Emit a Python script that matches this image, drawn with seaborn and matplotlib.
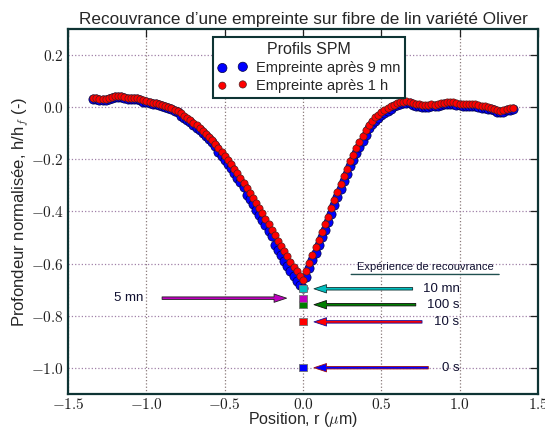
import matplotlib
matplotlib.use("Agg")
import matplotlib.pyplot as plt
import seaborn as sns
import numpy as np
import pandas as pd
from matplotlib.ticker import FuncFormatter

# ---------------- data ----------------
position = [
    -1.34, -1.32, -1.30, -1.28, -1.26, -1.24, -1.22, -1.20, -1.18, -1.16,
    -1.14, -1.12, -1.10, -1.08, -1.06, -1.04, -1.02, -1.00, -0.98, -0.96,
    -0.94, -0.92, -0.90, -0.88, -0.86, -0.84, -0.82, -0.80, -0.78, -0.76,
    -0.74, -0.72, -0.70, -0.68, -0.66, -0.64, -0.62, -0.60, -0.58, -0.56,
    -0.54, -0.52, -0.50, -0.48, -0.46, -0.44, -0.42, -0.40, -0.38, -0.36,
    -0.34, -0.32, -0.30, -0.28, -0.26, -0.24, -0.22, -0.20, -0.18, -0.16,
    -0.14, -0.12, -0.10, -0.08, -0.06, -0.04, -0.02, 0.00, 0.02, 0.04,
    0.06, 0.08, 0.10, 0.12, 0.14, 0.16, 0.18, 0.20, 0.22, 0.24,
    0.26, 0.28, 0.30, 0.32, 0.34, 0.36, 0.38, 0.40, 0.42, 0.44,
    0.46, 0.48, 0.50, 0.52, 0.54, 0.56, 0.58, 0.60, 0.62, 0.64,
    0.66, 0.68, 0.70, 0.72, 0.74, 0.76, 0.78, 0.80, 0.82, 0.84,
    0.86, 0.88, 0.90, 0.92, 0.94, 0.96, 0.98, 1.00, 1.02, 1.04,
    1.06, 1.08, 1.10, 1.12, 1.14, 1.16, 1.18, 1.20, 1.22, 1.24,
    1.26, 1.28, 1.30, 1.32, 1.34,
]

depth_9mn = [
    0.032, 0.030, 0.027, 0.026, 0.027, 0.030, 0.034, 0.038, 0.041, 0.039,
    0.035, 0.033, 0.032, 0.032, 0.030, 0.026, 0.022, 0.019, 0.017, 0.014,
    0.011, 0.008, 0.005, 0.001, -0.003, -0.008, -0.014, -0.020, -0.032, -0.040,
    -0.049, -0.058, -0.068, -0.078, -0.088, -0.099, -0.110, -0.122, -0.135, -0.149,
    -0.171, -0.186, -0.202, -0.218, -0.235, -0.252, -0.270, -0.288, -0.306, -0.335,
    -0.354, -0.373, -0.393, -0.413, -0.433, -0.454, -0.475, -0.496, -0.527, -0.548,
    -0.569, -0.589, -0.609, -0.629, -0.648, -0.666, -0.684, -0.695, -0.650, -0.618,
    -0.588, -0.558, -0.528, -0.498, -0.470, -0.440, -0.408, -0.375, -0.344, -0.314,
    -0.285, -0.256, -0.227, -0.202, -0.177, -0.153, -0.129, -0.106, -0.080, -0.064,
    -0.051, -0.040, -0.031, -0.022, -0.015, -0.008, 0.003, 0.008, 0.012, 0.015,
    0.017, 0.015, 0.010, 0.006, 0.004, 0.002, 0.001, 0.002, 0.004, 0.003,
    0.005, 0.008, 0.011, 0.013, 0.014, 0.012, 0.009, 0.007, 0.005, 0.004,
    0.005, 0.006, 0.004, 0.001, -0.002, -0.003, -0.005, -0.008, -0.012, -0.017,
    -0.020, -0.017, -0.012, -0.009, -0.008,
]

depth_1h = [
    0.036, 0.034, 0.031, 0.030, 0.031, 0.034, 0.038, 0.042, 0.045, 0.043,
    0.039, 0.037, 0.036, 0.036, 0.034, 0.030, 0.026, 0.023, 0.021, 0.018,
    0.015, 0.012, 0.009, 0.005, 0.001, -0.004, -0.010, -0.016, -0.024, -0.032,
    -0.041, -0.050, -0.060, -0.070, -0.080, -0.091, -0.102, -0.114, -0.127, -0.141,
    -0.155, -0.170, -0.186, -0.202, -0.219, -0.236, -0.254, -0.272, -0.290, -0.309,
    -0.328, -0.347, -0.367, -0.387, -0.407, -0.428, -0.449, -0.470, -0.491, -0.512,
    -0.533, -0.553, -0.573, -0.593, -0.612, -0.630, -0.648, -0.662, -0.630, -0.598,
    -0.568, -0.538, -0.508, -0.478, -0.450, -0.420, -0.388, -0.355, -0.324, -0.294,
    -0.265, -0.236, -0.207, -0.182, -0.157, -0.133, -0.109, -0.086, -0.068, -0.052,
    -0.039, -0.028, -0.019, -0.010, -0.003, 0.004, 0.010, 0.015, 0.019, 0.022,
    0.024, 0.022, 0.017, 0.013, 0.011, 0.009, 0.008, 0.009, 0.011, 0.010,
    0.012, 0.015, 0.018, 0.020, 0.021, 0.019, 0.016, 0.014, 0.012, 0.011,
    0.012, 0.013, 0.011, 0.008, 0.005, 0.004, 0.002, -0.001, -0.005, -0.010,
    -0.013, -0.010, -0.005, -0.002, -0.001,
]

recovery_labels = ["0 s", "10 s", "100 s", "5 mn", "10 mn"]
recovery_depth = [-1.0, -0.824, -0.758, -0.733, -0.697]
recovery_colors = ["#0000ff", "#ff0000", "#007f00", "#bf00bf", "#00bfbf"]

series_labels = ["Empreinte après 9 mn", "Empreinte après 1 h"]
x_ticks = [-1.5, -1.0, -0.5, 0.0, 0.5, 1.0, 1.5]
y_ticks = [-1.0, -0.8, -0.6, -0.4, -0.2, 0.0, 0.2]

# ---------------- style ----------------
sns.set_style("white")
plt.rcParams["font.family"] = ["Liberation Sans", "DejaVu Sans"]
plt.rcParams["mathtext.fontset"] = "cm"

frame_col = "#0e3434"

fig = plt.figure(figsize=(5.45, 4.28), dpi=100)
ax = fig.add_axes([0.125, 0.08, 0.862, 0.852])

df9 = pd.DataFrame({"x": position, "y": depth_9mn})
df1 = pd.DataFrame({"x": position, "y": depth_1h})

sns.scatterplot(data=df9, x="x", y="y", ax=ax, color="#0000ff", s=44,
                edgecolor="#000040", linewidth=0.5, label=series_labels[0], zorder=3)
sns.scatterplot(data=df1, x="x", y="y", ax=ax, color="#ff0000", s=27,
                edgecolor="#502020", linewidth=0.5, label=series_labels[1], zorder=4)

rec = pd.DataFrame({"x": [0.0] * len(recovery_depth), "y": recovery_depth,
                    "lab": recovery_labels})
sns.scatterplot(data=rec, x="x", y="y", hue="lab",
                palette=dict(zip(recovery_labels, recovery_colors)),
                marker="s", s=26, edgecolor="0.45", linewidth=0.6, ax=ax,
                legend=False, zorder=6)

# arrows + labels
arrow_tails = {"10 mn": 0.70, "100 s": 0.72, "10 s": 0.76, "0 s": 0.80}
arrow_edges = {"10 mn": "#103030", "100 s": "#101010", "10 s": "#1010a0", "0 s": "#a01010"}
for lab, d, c in zip(recovery_labels, recovery_depth, recovery_colors):
    if lab == "5 mn":
        ax.annotate("", xy=(-0.105, d), xytext=(-0.90, d),
                    arrowprops=dict(facecolor=c, edgecolor="#202020", width=1.8,
                                    headwidth=6, headlength=9, shrink=0, lw=0.6), zorder=5)
        ax.text(-1.02, d, lab, ha="right", va="center", fontsize=9.5, color="#101030")
    else:
        ax.annotate("", xy=(0.07, d), xytext=(arrow_tails[lab], d),
                    arrowprops=dict(facecolor=c, edgecolor=arrow_edges[lab], width=1.8,
                                    headwidth=6, headlength=9, shrink=0, lw=0.6), zorder=5)
        ax.text(1.0, d, lab, ha="right", va="center", fontsize=9.5, color="#101030")

ax.text(0.78, -0.612, "Expérience de recouvrance", ha="center", va="center",
        fontsize=8, color="#101030")
ax.annotate("", xy=(1.27, -0.642), xytext=(0.29, -0.642),
            arrowprops=dict(arrowstyle="-", color="#205050", lw=1.0))

# axes
ax.set_xlim(-1.5, 1.5)
ax.set_ylim(-1.1, 0.3)
ax.set_xticks(x_ticks)
ax.set_yticks(y_ticks)
fmt = FuncFormatter(lambda v, p: r"$%.1f$" % v)
ax.xaxis.set_major_formatter(fmt)
ax.yaxis.set_major_formatter(fmt)
ax.tick_params(direction="in", length=6, width=0.9, colors="#202020",
               labelsize=11, top=True, right=True)
ax.tick_params(axis="x", pad=2)
ax.tick_params(axis="y", pad=3)
for s in ax.spines.values():
    s.set_color(frame_col)
    s.set_linewidth(1.6)

ax.xaxis.grid(True, color="#8a7a7a", linestyle=":", linewidth=0.9)
ax.yaxis.grid(True, color="#a080a8", linestyle=":", linewidth=0.9)
ax.set_axisbelow(True)

ax.set_xlabel(r"Position, r ($\mu$m)", fontsize=11.5, labelpad=-1)
ax.set_ylabel(r"Profondeur normalisée, h/h$_f$ (-)", fontsize=12, labelpad=0)
ax.set_title("Recouvrance d’une empreinte sur fibre de lin variété Oliver",
             fontsize=12.3, pad=4)

leg = ax.legend(loc="upper center", bbox_to_anchor=(0.513, 0.99), title="Profils SPM",
                scatterpoints=2, fontsize=10.5, title_fontsize=11.5, fancybox=False,
                framealpha=1, edgecolor=frame_col, borderpad=0.35, labelspacing=0.25,
                handletextpad=0.6, handlelength=2.0, borderaxespad=0.3)
leg.get_frame().set_linewidth(1.5)

fig.savefig("out.png", dpi=100)
